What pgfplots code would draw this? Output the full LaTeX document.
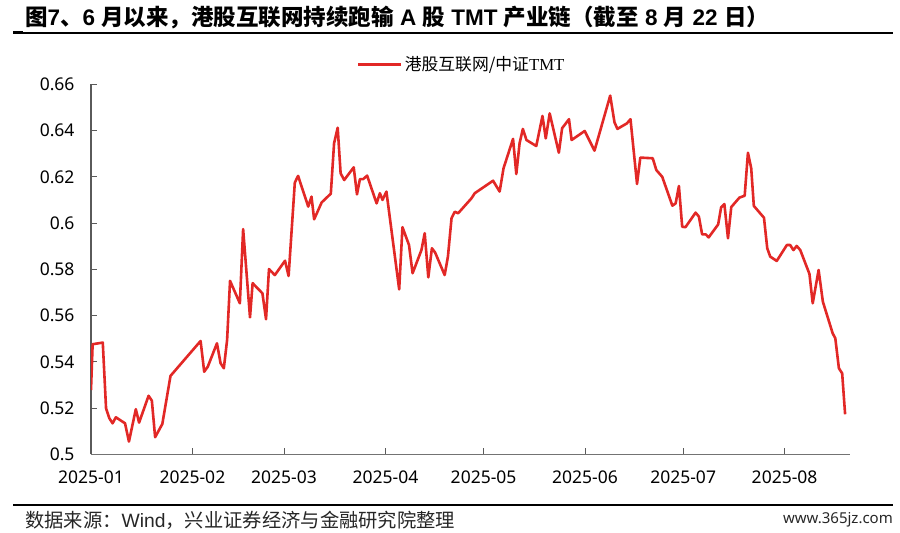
\documentclass[border=0pt]{standalone}
\usepackage{fontspec}
\setmainfont{Noto Sans}
\newfontfamily\cjk{Noto Sans CJK SC}
\newfontfamily\arial{Liberation Sans}
\newfontfamily\tms{Liberation Serif}
\usepackage{pgfplots}
\pgfplotsset{compat=1.18}
\definecolor{linered}{RGB}{226,40,38}
\definecolor{axgray}{RGB}{90,90,90}
\begin{document}
\begin{tikzpicture}[x=1bp,y=1bp]
\path[use as bounding box] (0,0) rectangle (900,533);
% title
\node[anchor=west,inner sep=0pt] at (25,515) {\fontsize{22.5bp}{26bp}\selectfont\bfseries
{\cjk 图}{\arial 7}{\cjk 、}{\arial 6 }{\cjk 月以来，港股互联网持续跑输}{\arial\ A }{\cjk 股}{\arial\ TMT }{\cjk 产业链（截至}{\arial\ 8 }{\cjk 月}{\arial\ 22 }{\cjk 日）}};
\draw[line width=1.5bp,black] (13,500) -- (893,500);
\draw[line width=3bp,black] (13,500) -- (23,500);
\begin{axis}[
  at={(91bp,78.7bp)}, anchor=south west,
  scale only axis, width=759bp, height=370bp,
  xmin=0, xmax=232, ymin=0.5, ymax=0.66,
  axis x line=bottom, axis y line=left,
  axis line style={axgray, line width=1.2bp, -},
  x axis line style={black!55},
  xtick={0,31,59,90,120,151,181,212},
  xticklabels={2025-01,2025-02,2025-03,2025-04,2025-05,2025-06,2025-07,2025-08},
  ytick={0.5,0.52,0.54,0.56,0.58,0.6,0.62,0.64,0.66},
  tick align=inside,
  major tick length=6bp,
  tick style={axgray, line width=1bp},
  /pgf/number format/assume math mode=true,
  /pgf/number format/fixed,
  /pgf/number format/precision=2,
  tick label style={font=\fontsize{17.5bp}{21bp}\selectfont, text=black},
  yticklabel style={xshift=-13bp},
  xticklabel style={yshift=-13bp},
  legend style={at={(0.3505,1.054)}, anchor=west, draw=none, fill=none, inner sep=0pt, outer sep=0pt,
    font=\fontsize{16.8bp}{20bp}\selectfont, nodes={inner sep=2bp}},
  legend image code/.code={\draw[linered, line width=2.8bp] (0bp,0bp) -- (43bp,0bp);},
]
\addplot[linered, line width=2.6bp, line join=round] coordinates {
(0,0.5278) (0.5,0.5476) (3.6,0.5483) (4.6,0.5199) (5.6,0.5156) (6.6,0.5134) (7.6,0.516)
(10.4,0.5134) (11.6,0.5055) (13.7,0.5195) (14.7,0.5137) (17.6,0.5253) (18.6,0.5232)
(19.6,0.5074) (21.8,0.5131) (24.3,0.5339) (33.5,0.549) (34.6,0.5357) (35.7,0.5379)
(38.5,0.548) (39.6,0.5394) (40.6,0.5372) (41.6,0.5494) (42.5,0.575) (45.5,0.5653)
(46.5,0.5974) (48.6,0.5592) (49.4,0.574) (52.4,0.5696) (53.5,0.5584) (54.4,0.5801)
(56.2,0.5775) (59.3,0.5837) (60.4,0.5771) (62.3,0.6175) (63.3,0.6204) (66.4,0.6071)
(67.4,0.6114) (68.2,0.6016) (70.5,0.6089) (73.3,0.6127) (74.3,0.6345) (75.4,0.6412)
(76.3,0.6215) (77.4,0.6186) (80.3,0.6241) (81.3,0.6124) (82.2,0.619) (83.2,0.619)
(84.4,0.6205) (87.3,0.6085) (88.3,0.6129) (89.1,0.61) (90.3,0.6136) (94.2,0.5713)
(95.2,0.5982) (97.2,0.5905) (98.3,0.5783) (101.0,0.5883) (102.0,0.5956) (103.1,0.5765)
(104.2,0.5891) (105.2,0.5872) (108.1,0.5775) (109.1,0.5855) (110.2,0.6021) (111.2,0.6049)
(112.2,0.6042) (116.3,0.6107) (117.3,0.6129) (122.9,0.6183) (124.9,0.6136) (126.1,0.6237)
(129.0,0.6364) (130.0,0.6212) (131.0,0.6345) (132.0,0.6407) (133.1,0.6359) (136.1,0.6333)
(138.0,0.6463) (139.0,0.6366) (140.2,0.6474) (143.0,0.6304) (144.0,0.641) (146.1,0.6449)
(146.9,0.6359) (150.9,0.6398) (153.9,0.6313) (158.7,0.6551) (160.0,0.6436) (160.9,0.6407)
(163.8,0.6431) (164.9,0.6449) (166.9,0.6169) (167.9,0.6283) (171.7,0.628) (172.8,0.6229)
(174.6,0.62) (177.7,0.6075) (178.7,0.6085) (179.7,0.616) (180.7,0.5984) (181.7,0.5982)
(184.8,0.6045) (185.8,0.6028) (186.8,0.5951) (187.9,0.5951) (188.8,0.5938) (191.7,0.5994)
(192.6,0.6068) (193.6,0.6082) (194.7,0.5934) (195.7,0.6069) (198.2,0.611) (199.8,0.6118)
(200.8,0.6304) (201.8,0.6237) (202.6,0.6074) (205.7,0.6023) (206.7,0.5891) (207.6,0.5855)
(209.6,0.5836) (212.7,0.5905) (213.7,0.5905) (214.7,0.5883) (215.7,0.5901) (216.8,0.5883)
(219.6,0.578) (220.6,0.5653) (222.4,0.5797) (223.7,0.566) (226.7,0.5523) (227.5,0.5502)
(228.6,0.5372) (229.6,0.535) (230.5,0.5173)
};
\addlegendentry{{\cjk 港股互联网/中证}{\tms TMT}}
\end{axis}
\draw[line width=2bp,black] (13,28) -- (893,28);
\node[anchor=west,inner sep=0pt,text=black!85] at (25,13) {\fontsize{19.3bp}{23bp}\selectfont{\cjk 数据来源：}{\arial Wind}{\cjk ，兴业证券经济与金融研究院整理}};
\node[anchor=east,inner sep=0pt,text=black!85] at (893,13) {\fontsize{15bp}{18bp}\selectfont www.365jz.com};
\end{tikzpicture}
\end{document}
